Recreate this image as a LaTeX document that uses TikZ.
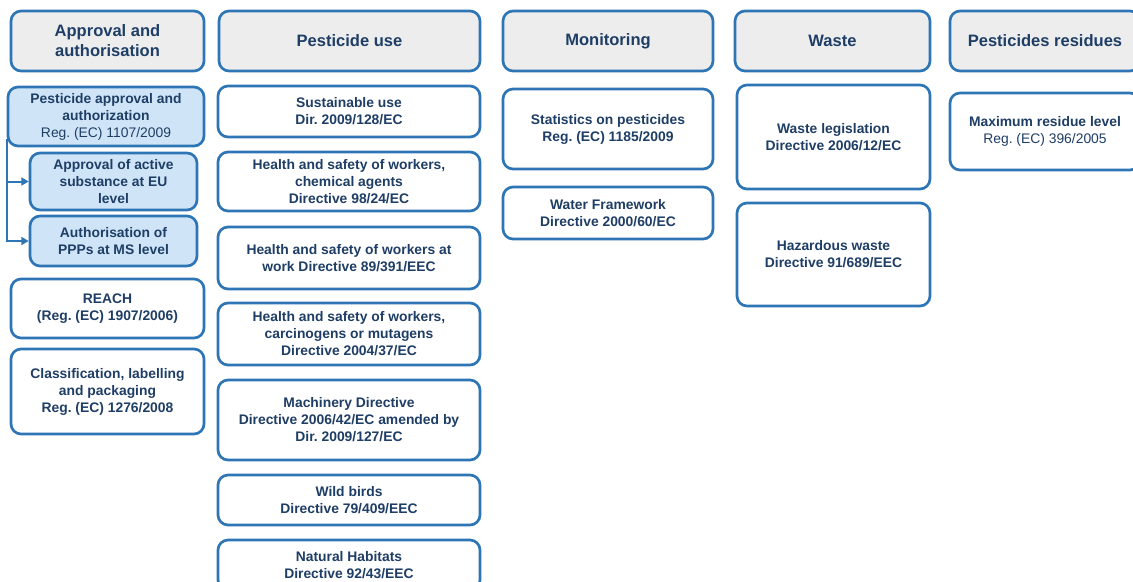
\documentclass[tikz,border=0pt]{standalone}
\usepackage{fontspec}
\setmainfont{Liberation Sans}
\usetikzlibrary{arrows.meta}
\definecolor{bord}{HTML}{2E75B6}
\definecolor{txt}{HTML}{1F3E66}
\definecolor{hdr}{HTML}{EDEDED}
\definecolor{lblue}{HTML}{CFE5F7}
\frenchspacing
\begin{document}
\begin{tikzpicture}[x=0.75pt,y=-0.75pt,
 base/.style={draw=bord, line width=2pt, rounded corners=7.5pt, text=txt, align=center, inner sep=0pt,
   font=\bfseries\fontsize{10.4}{12.75}\selectfont},
 sz/.style 2 args={minimum width=#1*0.75pt, minimum height=#2*0.75pt},
 hdrbox/.style={base, fill=hdr, font=\bfseries\fontsize{12.4}{15}\selectfont},
 lawbox/.style={base, fill=white},
 subbox/.style={base, fill=lblue},
 arr/.style={draw=bord, line width=1.5pt, -{Triangle[length=5.5pt,width=6pt]}}]
\clip (0,0) rectangle (1133,582);
\useasboundingbox (0,0) rectangle (1133,582);
% headers
\node[hdrbox, sz={193}{60}] (h1) at (107.5,41) {Approval and\\authorisation};
\node[hdrbox, sz={261}{60}] (h2) at (349.5,41) {Pesticide use};
\node[hdrbox, sz={210}{60}] (h3) at (608,41) {Monitoring};
\node[hdrbox, sz={195}{60}] (h4) at (832.5,41) {Waste};
\node[hdrbox, sz={190}{60}] (h5) at (1045,41) {Pesticides residues};
% column 1
\node[subbox, sz={196}{59}] (pa) at (106,116.5) {Pesticide approval and\\authorization\\{\mdseries Reg. (EC) 1107/2009}};
\node[subbox, sz={167}{57}] (aas) at (113.5,181.5) {Approval of active\\substance at EU\\level};
\node[subbox, sz={167}{50}] (ppp) at (113.5,241) {Authorisation of\\PPPs at MS level};
\node[lawbox, sz={193}{59}] (reach) at (107.5,308.5) {REACH\\(Reg. (EC) 1907/2006)};
\node[lawbox, sz={193}{85}] (clp) at (107.5,391.5) {Classification, labelling\\and packaging\\Reg. (EC) 1276/2008};
\draw[arr] ([yshift=6pt]pa.south west) |- (aas.west);
\draw[arr] ([yshift=6pt]pa.south west) |- (ppp.west);
% column 2
\node[lawbox, sz={262}{51}] (su) at (349,111.5) {Sustainable use\\Dir. 2009/128/EC};
\node[lawbox, sz={262}{59}] (hs1) at (349,181.5) {Health and safety of workers,\\chemical agents\\Directive 98/24/EC};
\node[lawbox, sz={262}{62}] (hs2) at (349,258) {Health and safety of workers at\\work Directive 89/391/EEC};
\node[lawbox, sz={262}{62}] (hs3) at (349,334) {Health and safety of workers,\\carcinogens or mutagens\\Directive 2004/37/EC};
\node[lawbox, sz={262}{80}] (mach) at (349,420) {Machinery Directive\\Directive 2006/42/EC amended by\\Dir. 2009/127/EC};
\node[lawbox, sz={262}{50}] (wb) at (349,500) {Wild birds\\Directive 79/409/EEC};
\node[lawbox, sz={262}{50}] (nh) at (349,565) {Natural Habitats\\Directive 92/43/EEC};
% column 3
\node[lawbox, sz={210}{80}] (st) at (608,129) {Statistics on pesticides\\Reg. (EC) 1185/2009};
\node[lawbox, sz={210}{52}] (wf) at (608,213) {Water Framework\\Directive 2000/60/EC};
% column 4
\node[lawbox, sz={193}{104}] (wl) at (833.5,137) {Waste legislation\\Directive 2006/12/EC};
\node[lawbox, sz={193}{103}] (hw) at (833.5,254.5) {Hazardous waste\\Directive 91/689/EEC};
% column 5
\node[lawbox, sz={190}{77}] (mrl) at (1045,131.5) {Maximum residue level\\{\mdseries Reg. (EC) 396/2005}};
\end{tikzpicture}
\end{document}
